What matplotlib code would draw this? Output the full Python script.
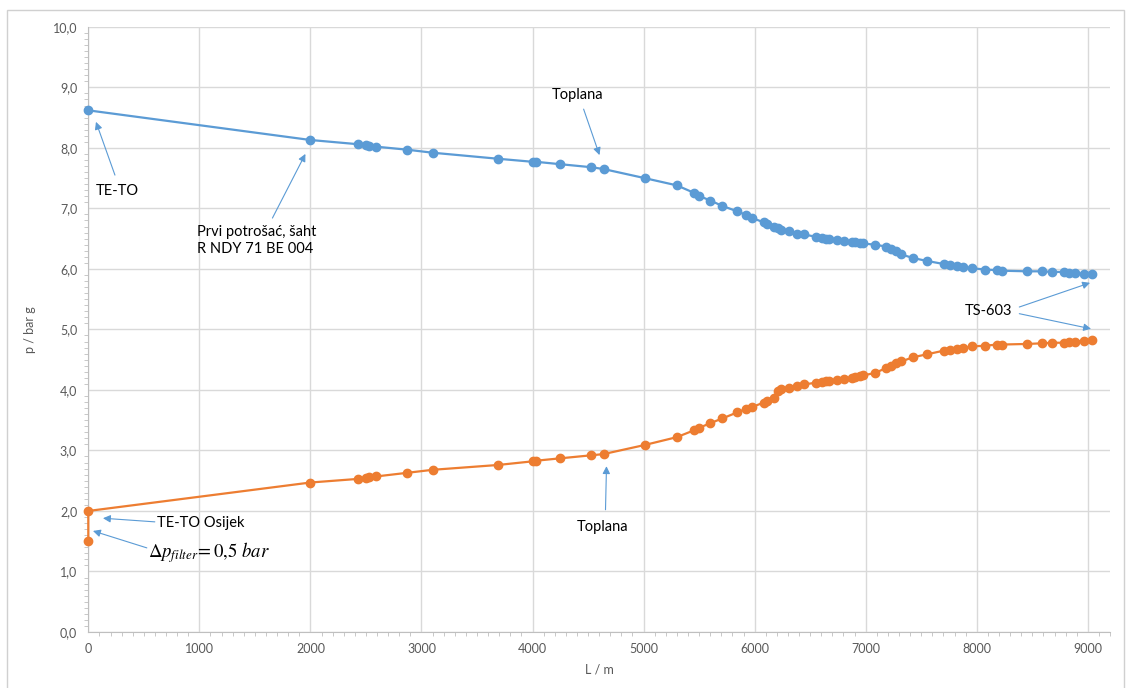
import matplotlib
matplotlib.use("Agg")
import matplotlib.pyplot as plt
from matplotlib.patches import Rectangle
from matplotlib.ticker import FuncFormatter, MultipleLocator

# chainage along the pipeline, m (shared by both lines)
L = [0, 2000, 2430, 2500, 2530, 2590, 2870, 3100, 3690, 4000, 4030, 4250, 4530, 4640,
     5010, 5300, 5450, 5495, 5600, 5710, 5845, 5925, 5980, 6080, 6110, 6175, 6210,
     6240, 6305, 6380, 6440, 6555, 6605, 6645, 6665, 6745, 6805, 6880, 6905, 6945,
     6975, 7085, 7180, 7230, 7275, 7320, 7425, 7555, 7705, 7755, 7825, 7875, 7960,
     8075, 8180, 8225, 8455, 8585, 8680, 8785, 8830, 8880, 8965, 9040]

# supply line pressure, bar g
p_supply = [8.62, 8.13, 8.06, 8.04, 8.03, 8.02, 7.97, 7.92, 7.82, 7.77, 7.77, 7.73, 7.68, 7.65,
            7.50, 7.38, 7.26, 7.21, 7.13, 7.04, 6.95, 6.89, 6.84, 6.77, 6.75, 6.70, 6.67,
            6.64, 6.62, 6.58, 6.57, 6.53, 6.51, 6.50, 6.49, 6.47, 6.46, 6.45, 6.44, 6.42,
            6.42, 6.40, 6.37, 6.33, 6.29, 6.24, 6.18, 6.13, 6.08, 6.07, 6.05, 6.03, 6.01,
            5.99, 5.98, 5.97, 5.96, 5.96, 5.95, 5.95, 5.94, 5.93, 5.92, 5.91]

# return line pressure, bar g (extra first point: before the filter)
L_return = [0] + L
p_return = [1.50, 2.00, 2.47, 2.53, 2.55, 2.56, 2.57, 2.63, 2.68, 2.76, 2.82, 2.83, 2.87, 2.92, 2.94,
            3.09, 3.22, 3.33, 3.37, 3.45, 3.53, 3.63, 3.69, 3.72, 3.79, 3.82, 3.87, 3.99,
            4.02, 4.04, 4.07, 4.09, 4.12, 4.13, 4.14, 4.15, 4.17, 4.18, 4.20, 4.21, 4.23,
            4.24, 4.28, 4.36, 4.40, 4.44, 4.47, 4.54, 4.59, 4.65, 4.66, 4.68, 4.69, 4.72,
            4.73, 4.75, 4.75, 4.76, 4.77, 4.78, 4.78, 4.79, 4.80, 4.81, 4.83]

BLUE = "#5b9bd5"
ORANGE = "#ed7d31"
GRID = "#d9d9d9"
TXT = "#595959"

plt.rcParams["font.family"] = ["Lato", "DejaVu Sans"]

fig = plt.figure(figsize=(11.32, 6.88), dpi=100)
fig.patches.append(Rectangle((7 / 1132, -0.05), 1117 / 1132, 1.05 - 10 / 688,
                             transform=fig.transFigure, fill=False,
                             edgecolor="#d0d0d0", lw=1))
ax = fig.add_axes([0.078, 0.0814, 0.9026, 0.8796])

ax.plot(L, p_supply, color=BLUE, lw=1.6, marker="o", ms=6, zorder=3, clip_on=False)
ax.plot(L_return, p_return, color=ORANGE, lw=1.6, marker="o", ms=6, zorder=3, clip_on=False)

ax.set_xlim(0, 9200)
ax.set_ylim(0, 10)
ax.xaxis.set_major_locator(MultipleLocator(1000))
ax.xaxis.set_minor_locator(MultipleLocator(100))
ax.yaxis.set_major_locator(MultipleLocator(1))
ax.yaxis.set_minor_locator(MultipleLocator(0.1))
ax.yaxis.set_major_formatter(FuncFormatter(lambda v, _: f"{v:.1f}".replace(".", ",")))
ax.grid(True, which="major", color=GRID, lw=1)
ax.set_axisbelow(True)
for s in ("top", "right"):
    ax.spines[s].set_visible(False)
for s in ("left", "bottom"):
    ax.spines[s].set_color("#bfbfbf")
ax.tick_params(which="major", length=0, labelsize=9, labelcolor=TXT, pad=8)
ax.tick_params(which="minor", length=3, color="#bfbfbf", direction="out")
ax.set_xlabel("L / m", fontsize=9, color=TXT, labelpad=6)
ax.set_ylabel("p / bar g", fontsize=9, color=TXT, labelpad=12)

arrow = dict(arrowstyle="-|>", color=BLUE, lw=0.8, mutation_scale=11, shrinkA=0, shrinkB=0)
FS = 10.5


def note(tail, head):
    ax.annotate("", xy=head, xytext=tail, arrowprops=arrow)


note((240, 7.55), (69, 8.43))
ax.text(70, 7.29, "TE-TO", fontsize=FS, color="black", va="center")

note((1658, 6.84), (1955, 7.90))
ax.text(976, 6.47, "Prvi potrošać, šaht\nR NDY 71 BE 004", fontsize=FS,
        color="black", va="center", linespacing=1.3)

note((4460, 8.64), (4603, 7.88))
ax.text(4406, 8.88, "Toplana", fontsize=FS, color="black", ha="center", va="center")

note((8383, 5.37), (9020, 5.77))
note((8383, 5.26), (9029, 5.01))
ax.text(8105, 5.31, "TS-603", fontsize=FS, color="black", ha="center", va="center")

note((599, 1.82), (132, 1.88))
ax.text(617, 1.80, "TE-TO Osijek", fontsize=FS, color="black", va="center")

note((527, 1.39), (42, 1.67))
ax.text(536, 1.31, r"$\Delta p_{filter}\!= 0{,}5\ bar$", fontsize=13.5,
        color="black", va="center", math_fontfamily="stix")

note((4657, 2.02), (4666, 2.74))
ax.text(4630, 1.74, "Toplana", fontsize=FS, color="black", ha="center", va="center")

fig.savefig("out.png", dpi=100)
